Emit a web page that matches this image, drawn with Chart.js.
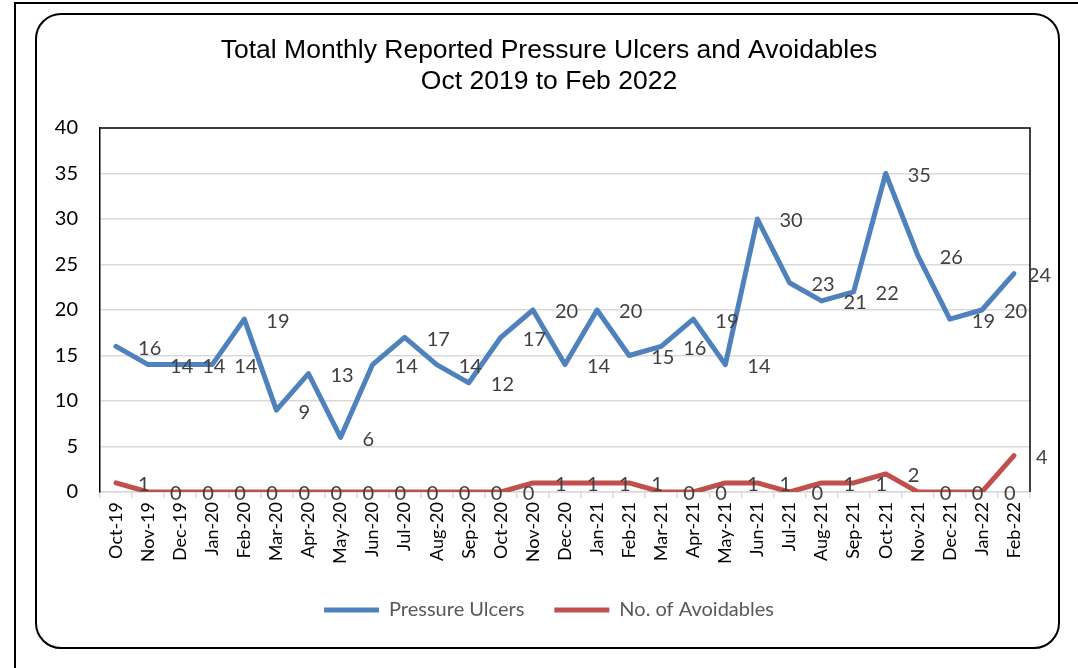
<!DOCTYPE html>
<html>
<head>
<meta charset="utf-8">
<title>Total Monthly Reported Pressure Ulcers and Avoidables</title>
<script src="https://cdn.jsdelivr.net/npm/chart.js@4.4.1/dist/chart.umd.min.js"></script>
<style>
  html, body { margin: 0; padding: 0; background: #fff; }
  body { width: 1078px; height: 668px; position: relative; overflow: hidden; }
  .page-edge { position: absolute; left: 14px; top: 2px; right: -10px; bottom: -10px; border-top: 2px solid #000; border-left: 2px solid #000; }
  .frame { position: absolute; left: 35px; top: 13px; width: 1025px; height: 636px; box-sizing: border-box; border: 2px solid #000; border-radius: 26px; }
  #chart { position: absolute; left: 0; top: 0; }
</style>
</head>
<body>
<div class="page-edge"></div>
<div class="frame"></div>
<canvas id="chart" width="1078" height="668"></canvas>
<script>
// Chart data
const months = [
  "Oct-19", "Nov-19", "Dec-19", "Jan-20", "Feb-20", "Mar-20", "Apr-20", "May-20",
  "Jun-20", "Jul-20", "Aug-20", "Sep-20", "Oct-20", "Nov-20", "Dec-20", "Jan-21",
  "Feb-21", "Mar-21", "Apr-21", "May-21", "Jun-21", "Jul-21", "Aug-21", "Sep-21",
  "Oct-21", "Nov-21", "Dec-21", "Jan-22", "Feb-22"
];
const pressureUlcers = [
  16, 14, 14, 14, 19, 9, 13, 6, 14, 17, 14, 12, 17, 20, 14, 20,
  15, 16, 19, 14, 30, 23, 21, 22, 35, 26, 19, 20, 24
];
const avoidables = [
  1, 0, 0, 0, 0, 0, 0, 0, 0, 0, 0, 0, 0, 1, 1, 1,
  1, 0, 0, 1, 1, 0, 1, 1, 2, 0, 0, 0, 4
];
const yMax = 40;
const yStep = 5;

const labelFont = "Lato, 'Open Sans', sans-serif";

// Excel-style "right" data labels next to each point
const sideLabels = {
  id: "sideLabels",
  afterDatasetsDraw(chart) {
    const { ctx, chartArea } = chart;
    ctx.save();
    ctx.font = `20px ${labelFont}`;
    ctx.fillStyle = "#404040";
    ctx.textAlign = "left";
    ctx.textBaseline = "middle";
    chart.data.datasets.forEach((ds, i) => {
      chart.getDatasetMeta(i).data.forEach((pt, j) => {
        const text = String(ds.data[j]);
        const w = ctx.measureText(text).width;
        let x = pt.x + 22;
        // keep labels inside the frame, like Excel does
        if (x + w > chartArea.right + 21) x = chartArea.right + 21 - w;
        ctx.fillText(text, x, pt.y + 2);
      });
    });
    ctx.restore();
  },
};

// black top and right edges of the plot area
const plotFrame = {
  id: "plotFrame",
  beforeDatasetsDraw(chart) {
    const { ctx, chartArea } = chart;
    ctx.save();
    ctx.strokeStyle = "#000";
    ctx.lineWidth = 1.5;
    ctx.beginPath();
    ctx.moveTo(chartArea.left, chartArea.top);
    ctx.lineTo(chartArea.right, chartArea.top);
    ctx.lineTo(chartArea.right, chartArea.bottom);
    ctx.stroke();
    ctx.restore();
  },
};

new Chart(document.getElementById("chart"), {
  type: "line",
  data: {
    labels: months,
    datasets: [
      {
        label: "Pressure Ulcers",
        data: pressureUlcers,
        borderColor: "#4F81BD",
        backgroundColor: "#4F81BD",
        borderWidth: 5,
        borderJoinStyle: "round",
        borderCapStyle: "round",
        pointRadius: 0,
        tension: 0,
      },
      {
        label: "No. of Avoidables",
        data: avoidables,
        borderColor: "#C0504D",
        backgroundColor: "#C0504D",
        borderWidth: 5,
        borderJoinStyle: "round",
        borderCapStyle: "round",
        pointRadius: 0,
        tension: 0,
      },
    ],
  },
  options: {
    responsive: false,
    animation: false,
    layout: { padding: { left: 40, right: 20, top: 0, bottom: 38 } },
    plugins: {
      title: {
        display: true,
        text: ["Total Monthly Reported Pressure Ulcers and Avoidables", "Oct 2019 to Feb 2022"],
        color: "#000",
        font: { family: "'Liberation Sans', Arial, sans-serif", size: 26.5, weight: "normal", lineHeight: 1.17 },
        padding: { top: 35, bottom: 31 },
      },
      legend: {
        position: "bottom",
        labels: {
          usePointStyle: true,
          pointStyle: "line",
          pointStyleWidth: 55,
          boxWidth: 55,
          color: "#595959",
          font: { family: labelFont, size: 20 },
          padding: 30,
        },
      },
      tooltip: { enabled: false },
    },
    scales: {
      x: {
        offset: true,
        afterFit: (s) => { s.height = 78; },
        grid: {
          offset: true,
          drawOnChartArea: false,
          drawTicks: true,
          tickLength: 6,
          color: "#D9D9D9",
          lineWidth: 1.5,
        },
        border: { color: "#D9D9D9", width: 1.5 },
        ticks: {
          autoSkip: false,
          minRotation: 90,
          maxRotation: 90,
          padding: 4,
          color: "#000",
          font: { family: labelFont, size: 18 },
        },
      },
      y: {
        min: 0,
        max: yMax,
        afterFit: (s) => { s.width = 60; },
        grid: {
          drawTicks: false,
          color: (c) => (c.tick.value === yMax ? "rgba(0,0,0,0)" : "#D9D9D9"),
          lineWidth: 1.5,
        },
        border: { color: "#000", width: 1.5 },
        ticks: {
          stepSize: yStep,
          padding: 22,
          color: "#000",
          font: { family: labelFont, size: 20 },
        },
      },
      // empty right-hand box so the plot ends where the reference's does
      yRight: {
        position: "right",
        afterFit: (s) => { s.width = 28; },
        grid: { display: false },
        border: { display: false },
        ticks: { display: false },
      },
    },
  },
  plugins: [plotFrame, sideLabels],
});
</script>
</body>
</html>
